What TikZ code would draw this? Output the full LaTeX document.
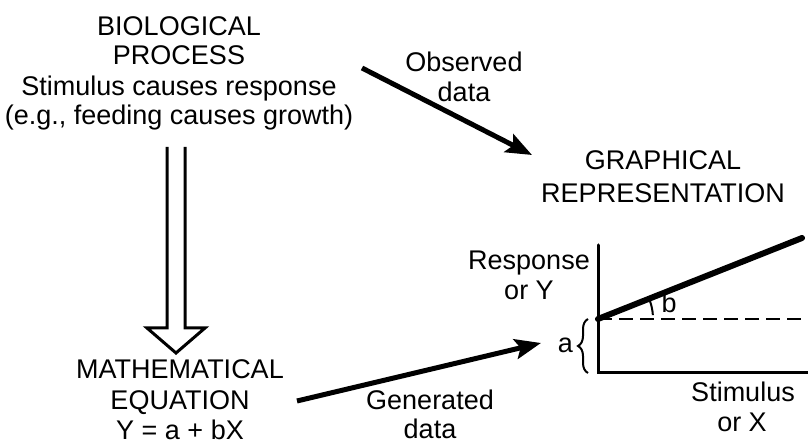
\documentclass[tikz,border=0pt]{standalone}
\usepackage{fontspec}
\setmainfont{Liberation Sans}
\usetikzlibrary{arrows.meta,decorations.pathreplacing}
\begin{document}
\begin{tikzpicture}[x=1pt,y=1pt,
  lbl/.style={font=\fontsize{27}{30}\selectfont, inner sep=0pt, anchor=base},
  bigarrow/.style={line width=5pt, -{Stealth[length=26pt,width=20pt,inset=5pt]}},
  axisline/.style={line width=3pt, line cap=round},
  hollow/.style={line width=3pt, line join=miter}]
\fill[white] (0,0) rectangle (808,446);
\useasboundingbox (0,0) rectangle (808,446);
% top block
\node[lbl] (bio1) at (179,410) {BIOLOGICAL};
\node[lbl] (bio2) at (179,381) {PROCESS};
\node[lbl] (bio3) at (179,350) {Stimulus causes response};
\node[lbl] (bio4) at (179,321) {(e.g., feeding causes growth)};
% math block
\node[lbl] (math1) at (180,67) {MATHEMATICAL};
\node[lbl] (math2) at (180,36) {EQUATION};
\node[lbl, text depth=0pt] (math3) at (180,6) {Y = a + bX};
% hollow arrow
\draw[hollow] (167,299) -- (167,118) -- (147,118) -- (176,93) -- (205,118) -- (185,118) -- (185,299);
% observed
\node[lbl] (obs1) at (464,374) {Observed};
\node[lbl] (obs2) at (464,344) {data};
\coordinate (obsS) at (362,378);
\coordinate (obsE) at (532,291);
\draw[bigarrow] (obsS) -- (obsE);
% graphical
\node[lbl] (gr1) at (663,276) {GRAPHICAL};
\node[lbl] (gr2) at (663,243) {REPRESENTATION};
% generated
\node[lbl] (gen1) at (430,36) {Generated};
\node[lbl, text depth=0pt] (gen2) at (430,7) {data};
\coordinate (genS) at (297,45);
\coordinate (genE) at (541,103);
\draw[bigarrow] (genS) -- (genE);
% graph
\coordinate (O) at (598,73);
\coordinate (A) at (598,127);
\coordinate (ytop) at (598,201);
\coordinate (xend) at (808,73);
\coordinate (dend) at (808,127);
\coordinate (lend) at (802,208);
\draw[axisline] (ytop) -- (O) -- (xend);
\draw[line width=2.5pt, dash pattern=on 14pt off 7pt] (A) -- (dend);
\draw[line width=6pt, line cap=round] (A) -- (lend);
\draw[line width=2pt] ([shift={(4:55)}]A) arc[start angle=4, end angle=19, radius=55];
\node[lbl] (b) at (669,133) {b};
\draw[line width=2pt, decorate, decoration={brace, amplitude=10pt}] (588,73) -- (588,127);
\node[lbl, anchor=base east] (a) at (573,93) {a};
\node[lbl] (resp1) at (529,176) {Response};
\node[lbl] (resp2) at (529,146) {or Y};
\node[lbl] (stim1) at (743,44) {Stimulus};
\node[lbl] (stim2) at (742,14) {or X};
\end{tikzpicture}
\end{document}
